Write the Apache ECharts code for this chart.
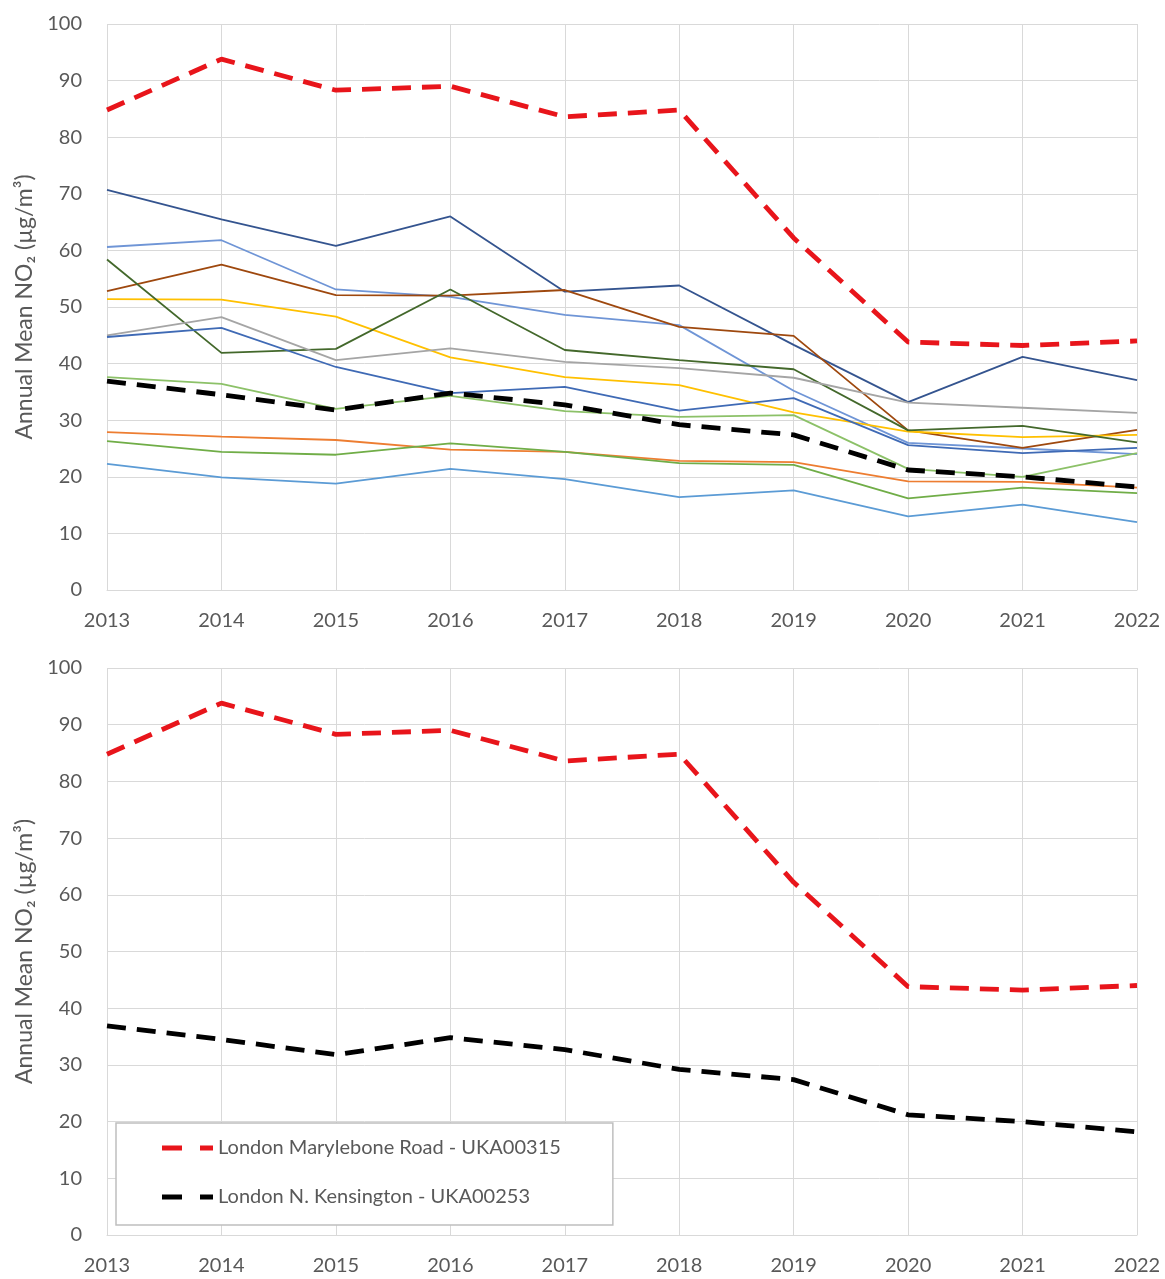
<!DOCTYPE html>
<html><head><meta charset="utf-8">
<script src="https://cdn.jsdelivr.net/npm/echarts@6/dist/echarts.min.js"></script>
<style>html,body{margin:0;padding:0;background:#fff}#c{width:1165px;height:1279px}</style>
</head><body><div id="c"></div>
<script>
const years = ['2013','2014','2015','2016','2017','2018','2019','2020','2021','2022'];
const yTicks = [0,10,20,30,40,50,60,70,80,90,100];
const yAxisTitle = 'Annual Mean NO\u2082 (\u00b5g/m\u00b3)';

const marylebone = [84.8, 93.8, 88.3, 89.0, 83.6, 84.8, 62.2, 43.8, 43.2, 44.0];
const kensington = [36.9, 34.5, 31.8, 34.8, 32.7, 29.2, 27.4, 21.2, 20.0, 18.2];
const siteDarkBlue = [70.7, 65.5, 60.8, 66.0, 52.7, 53.8, 43.3, 33.2, 41.2, 37.1];
const siteLightBlue = [60.6, 61.8, 53.1, 51.8, 48.6, 46.8, 35.2, 26.0, 25.0, 24.0];
const siteBrown = [52.8, 57.5, 52.1, 52.0, 53.0, 46.5, 44.9, 28.2, 25.1, 28.3];
const siteYellow = [51.4, 51.3, 48.3, 41.1, 37.6, 36.2, 31.4, 28.0, 27.0, 27.4];
const siteDarkGreen = [58.4, 41.9, 42.6, 53.1, 42.4, 40.6, 39.0, 28.2, 29.0, 26.1];
const siteGray = [45.0, 48.2, 40.6, 42.7, 40.3, 39.2, 37.5, 33.1, 32.2, 31.3];
const siteBlue = [44.7, 46.3, 39.4, 34.8, 35.9, 31.7, 33.9, 25.6, 24.2, 25.1];
const siteLightGreen = [37.6, 36.4, 32.0, 34.3, 31.6, 30.6, 30.9, 21.4, 20.0, 24.2];
const siteOrange = [27.9, 27.1, 26.5, 24.8, 24.4, 22.8, 22.6, 19.2, 19.1, 18.1];
const siteGreen = [26.3, 24.4, 23.9, 25.9, 24.4, 22.4, 22.1, 16.2, 18.1, 17.1];
const siteSkyBlue = [22.3, 19.9, 18.8, 21.4, 19.6, 16.4, 17.6, 13.0, 15.1, 12.0];

const nameMary = 'London Marylebone Road - UKA00315';
const nameKens = 'London N. Kensington - UKA00253';
const colorMary = '#E8151B';
const colorKens = '#000000';

const otherSites = [
  {name:'Site A', data: siteDarkBlue, color:'#34548F'},
  {name:'Site B', data: siteLightBlue, color:'#6F95D6'},
  {name:'Site C', data: siteBrown, color:'#9E480E'},
  {name:'Site D', data: siteYellow, color:'#FFC000'},
  {name:'Site E', data: siteDarkGreen, color:'#43682B'},
  {name:'Site F', data: siteGray, color:'#A5A5A5'},
  {name:'Site G', data: siteBlue, color:'#3F6AB5'},
  {name:'Site H', data: siteLightGreen, color:'#8CC168'},
  {name:'Site I', data: siteOrange, color:'#ED7D31'},
  {name:'Site J', data: siteGreen, color:'#70AD47'},
  {name:'Site K', data: siteSkyBlue, color:'#5B9BD5'}
];

const font = 'Lato, "Open Sans", sans-serif';
const gridColor = '#D9D9D9';
const labelColor = '#595959';

function xAxis(gi){
  return {type:'category', gridIndex:gi, data:years, boundaryGap:false,
    axisLine:{show:true, lineStyle:{color:gridColor, width:1}},
    axisTick:{show:false},
    axisLabel:{color:labelColor, fontSize:20, fontFamily:font, margin:21},
    splitLine:{show:true, lineStyle:{color:gridColor, width:1}}};
}
function yAxis(gi){
  return {type:'value', gridIndex:gi, min:yTicks[0], max:yTicks[yTicks.length-1], interval:10,
    name:yAxisTitle, nameLocation:'middle', nameGap:70, nameRotate:90,
    nameTextStyle:{color:labelColor, fontSize:23, fontFamily:font},
    axisLine:{show:false}, axisTick:{show:false},
    axisLabel:{color:labelColor, fontSize:20, fontFamily:font, margin:25},
    splitLine:{show:true, lineStyle:{color:gridColor, width:1}}};
}

const series = [];
otherSites.forEach(s => series.push({
  type:'line', name:s.name, xAxisIndex:0, yAxisIndex:0, data:s.data, symbol:'none',
  lineStyle:{color:s.color, width:1.8}, itemStyle:{color:s.color}, silent:true, z:2
}));
function dashed(name, data, color, gi){
  return {type:'line', name:name, xAxisIndex:gi, yAxisIndex:gi, data:data, symbol:'none',
    lineStyle:{color:color, width:4.8, type:[19,11]}, itemStyle:{color:color}, z:5};
}
series.push(dashed(nameKens, kensington, colorKens, 0));
series.push(dashed(nameMary, marylebone, colorMary, 0));
series.push(dashed(nameMary, marylebone, colorMary, 1));
series.push(dashed(nameKens, kensington, colorKens, 1));

const dashIcon = 'path://M0,0h20v5h-20zM38,0h13v5h-13z';

const chart = echarts.init(document.getElementById('c'), null, {renderer:'canvas'});
chart.setOption({
  animation:false,
  backgroundColor:'#ffffff',
  grid:[
    {left:107, right:28, top:24, height:566},
    {left:107, right:28, top:668, height:567}
  ],
  xAxis:[xAxis(0), xAxis(1)],
  yAxis:[yAxis(0), yAxis(1)],
  legend:{
    data:[
      {name:nameMary, icon:dashIcon, itemStyle:{color:colorMary, borderWidth:0}},
      {name:nameKens, icon:dashIcon, itemStyle:{color:colorKens, borderWidth:0}}
    ],
    orient:'vertical', left:116, top:1123,
    itemWidth:51, itemHeight:5, itemGap:29,
    padding:[15, 52, 18, 46],
    borderColor:'#BFBFBF', borderWidth:1.5, backgroundColor:'#ffffff',
    textStyle:{color:labelColor, fontSize:20, fontFamily:font}
  },
  series:series
});
</script></body></html>
